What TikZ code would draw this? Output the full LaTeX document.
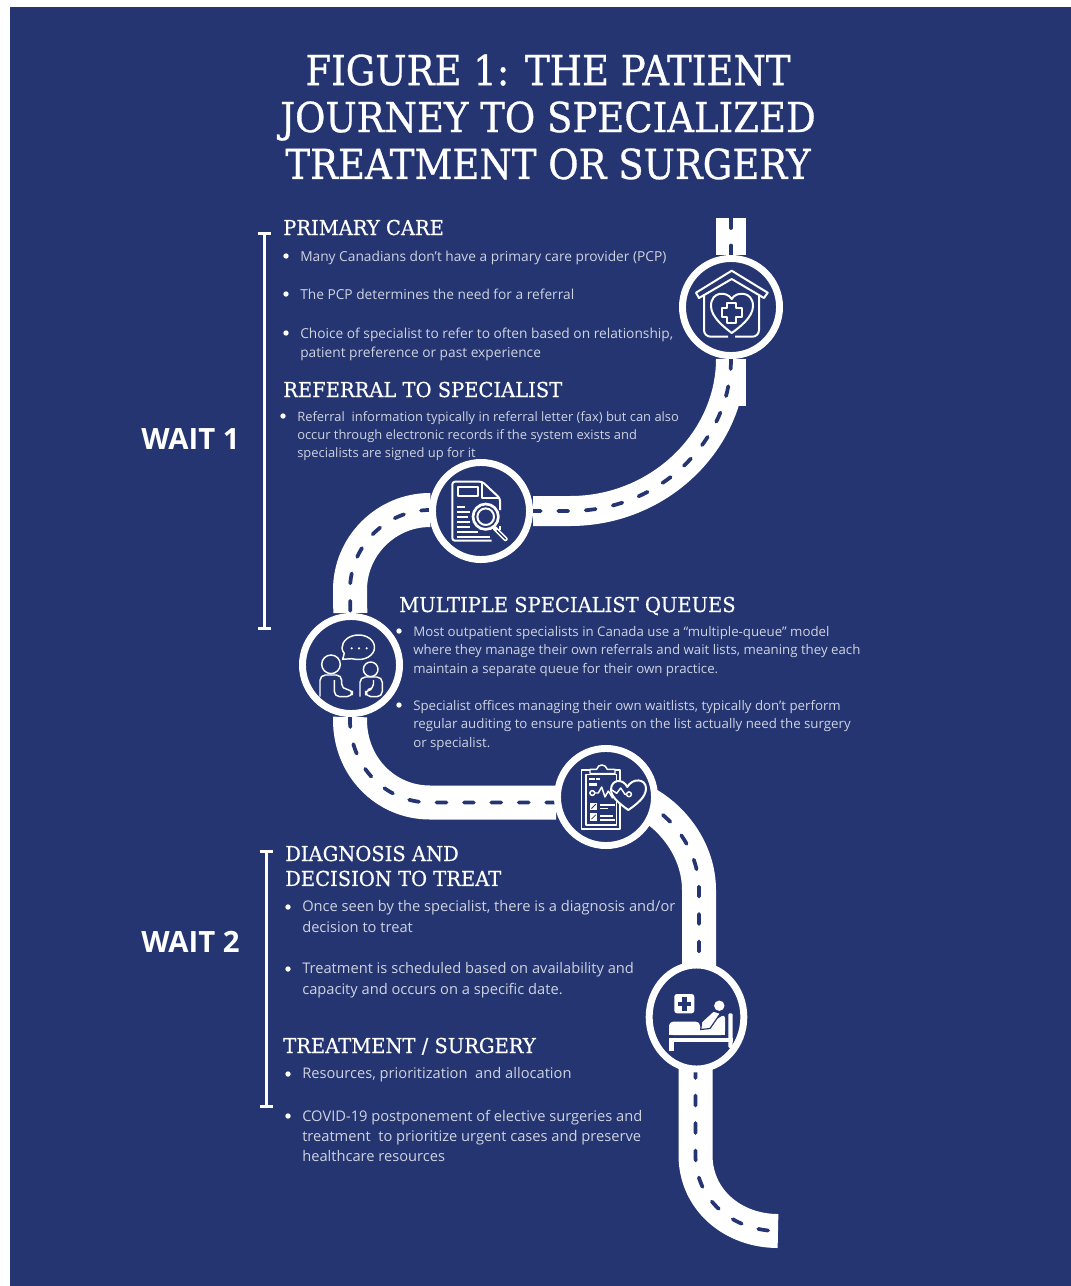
\documentclass[tikz,border=0pt]{standalone}
\usepackage{fontspec}
\setmainfont{Open Sans}
\newfontfamily\titlefont[FakeStretch=0.896,FakeBold=0.7]{DejaVu Serif}
\newfontfamily\headfont[FakeStretch=0.95,FakeBold=0.5]{DejaVu Serif}
\usepackage{xcolor}
\usetikzlibrary{arrows.meta,backgrounds,shapes.geometric}
\definecolor{navy}{RGB}{36,53,113}
\colorlet{bodytext}{white!78!navy}

\begin{document}
\begin{tikzpicture}[x=0.75pt,y=-0.75pt,>=Latex]
  \tikzset{
    stopring/.style={circle, draw=white, line width=5.2pt, fill=navy, minimum size=72.8pt, inner sep=0pt},
    road/.style={draw=white, line width=25.5pt, postaction={draw=navy, line width=2.8pt, line cap=round, dash pattern=on 7.5pt off 13.1pt}},
    thinroad/.style={road, line width=22.5pt},
    titletext/.style={font=\titlefont\fontsize{31pt}{35.2pt}\selectfont, text=white, align=center, inner sep=0pt},
    headtext/.style={font=\headfont\fontsize{15.4pt}{18.7pt}\selectfont, text=white, align=left, anchor=base west, inner sep=0pt},
    waittext/.style={font=\bfseries\fontsize{22pt}{25pt}\selectfont, text=white, anchor=base west, inner sep=0pt},
    bigtext/.style={font=\fontsize{11pt}{15.3pt}\selectfont, text=bodytext, align=left, anchor=north west, inner sep=0pt},
    midtext/.style={font=\fontsize{10.3pt}{14.2pt}\selectfont, text=bodytext, align=left, anchor=north west, inner sep=0pt},
    queuetext/.style={font=\fontsize{9.95pt}{13.9pt}\selectfont, text=bodytext, align=left, anchor=north west, inner sep=0pt},
    smalltext/.style={font=\fontsize{9.7pt}{13.5pt}\selectfont, text=bodytext, align=left, anchor=north west, inner sep=0pt},
    waitbar/.style={draw=white, line width=2.2pt, {Bar[width=10pt,line width=2.2pt]}-{Bar[width=10pt,line width=2.2pt]}},
    iconline/.style={draw=white, line width=1.5pt, line join=round},
    iconthin/.style={draw=white, line width=1.1pt, line join=round},
    iconbar/.style={draw=white, line width=1.2pt}
  }
  % stops on the road
  \node[stopring] (home) at (731,307) {};
  \node[stopring] (referral) at (481,511) {};
  \node[stopring] (queues) at (351,665) {};
  \node[stopring] (diagnosis) at (606,797) {};
  \node[ellipse, draw=white, line width=5.2pt, fill=navy, minimum width=71pt, minimum height=78pt, inner sep=0pt] (treatment) at (696.5,1017) {};

  \coordinate (roadtop) at (731,218);
  \coordinate (stubend) at (731,406);
  \coordinate (roadend) at (778,1231);
  \coordinate (diagwest) at (556,802.5);
  \coordinate (diageast) at (640,800);
  \coordinate (treattop) at (699,966);
  \coordinate (treatfoot) at (695.5,1068);

  % road, behind the stops
  \begin{pgfonlayer}{background}
    \fill[white] (0,0) rectangle (1071,1286);
    \fill[navy] (10,7) rectangle (1071,1286);
    \draw[draw=white, line width=22pt] (home) -- (stubend);
    \draw[thinroad] (roadtop) -- (home);
    \draw[thinroad] (home) .. controls (731,440) and (660,511) .. (570,511) -- (referral);
    \draw[road] (referral) -- (430,510) .. controls (386,510) and (350,546) .. (350,590) -- (queues);
    \draw[road] (queues) -- (350,720) .. controls (350,766) and (385,802.5) .. (430,802.5) -- (diagwest);
    \draw[road] (diageast) .. controls (672,815) and (699,850) .. (699,890) -- (treattop);
    \draw[road] (treatfoot) -- (695.5,1155) .. controls (695.5,1200) and (733,1231) .. (roadend);
  \end{pgfonlayer}

  % title
  \node[titletext] (title) at (548,117) {FIGURE 1: THE PATIENT\\JOURNEY TO SPECIALIZED\\TREATMENT OR SURGERY};

  % wait bars
  \coordinate (wait1top) at (264.5,232);
  \coordinate (wait1end) at (264.5,630);
  \coordinate (wait2top) at (266.5,850);
  \coordinate (wait2end) at (266.5,1108);
  \draw[waitbar] (wait1top) -- (wait1end);
  \draw[waitbar] (wait2top) -- (wait2end);
  \node[waittext] (wait1) at (141,449) {WAIT 1};
  \node[waittext] (wait2) at (141,952) {WAIT 2};

  % headings
  \node[headtext] (primary) at (283,235) {PRIMARY CARE};
  \node[headtext] (refhead) at (283,397) {REFERRAL TO SPECIALIST};
  \node[headtext] (multi) at (399,612) {MULTIPLE SPECIALIST QUEUES};
  \node[headtext,anchor=north west] (diag) at (285,845.5) {DIAGNOSIS AND\\DECISION TO TREAT};
  \node[headtext] (surgery) at (283,1053) {TREATMENT / SURGERY};

  % bullets
  \foreach \bx/\by in {286/256,286/294,286/333,283/416,399/631,399/705,288/907,288/969,288/1074,288/1116}
    \fill[white] (\bx,\by) circle (2.7);

  % body text
  \node[midtext] (pa) at (300,251) {Many Canadians don't have a primary care provider (PCP)};
  \node[midtext] (pb) at (300,289) {The PCP determines the need for a referral};
  \node[midtext] (pc) at (300,328) {Choice of specialist to refer to often based on relationship,\\patient preference or past experience};
  \node[smalltext] (ra) at (297,411) {Referral\ \ information typically in referral letter (fax) but can also\\occur through electronic records if the system exists and\\specialists are signed up for it};
  \node[queuetext] (qa) at (413,626) {Most outpatient specialists in Canada use a “multiple-queue” model\\where they manage their own referrals and wait lists, meaning they each\\maintain a separate queue for their own practice.};
  \node[queuetext] (qb) at (413,700) {Specialist offices managing their own waitlists, typically don’t perform\\regular auditing to ensure patients on the list actually need the surgery\\or specialist.};
  \node[bigtext] (da) at (302,900.5) {Once seen by the specialist, there is a diagnosis and/or\\decision to treat};
  \node[bigtext] (db) at (302,962.5) {Treatment is scheduled based on availability and\\capacity and occurs on a specific date.};
  \node[bigtext] (sa) at (302,1067.5) {Resources, prioritization\ \ and allocation};
  \node[bigtext] (sb) at (302,1109.5) {COVID-19 postponement of elective surgeries and\\treatment\ \ to prioritize urgent cases and preserve\\healthcare resources};

  % home icon
  \draw[iconline] (731.7,270.7) -- (767.7,292.7) -- (764,298) -- (731.7,279) -- (699,298) -- (696,292.7) -- cycle;
  \draw[iconline,rounded corners=5pt] (704,295) -- (704,336.7) -- (728,336.7);
  \draw[iconline,rounded corners=5pt] (759,295) -- (759,336.7) -- (735,336.7);
  \draw[iconline] (731.7,299) .. controls (727,291) and (711,291) .. (711,306) .. controls (711,317) and (724,327) .. (731.7,333) .. controls (740,327) and (753,317) .. (753,306) .. controls (753,291) and (736,291) .. (731.7,299) -- cycle;
  \draw[iconline] (727.2,303) -- (736.2,303) -- (736.2,308.2) -- (741.7,308.2) -- (741.7,317.2) -- (736.2,317.2) -- (736.2,322.5) -- (727.2,322.5) -- (727.2,317.2) -- (721.7,317.2) -- (721.7,308.2) -- (727.2,308.2) -- cycle;

  % document icon
  \draw[iconline,rounded corners=2pt] (491.7,540.7) -- (452.3,540.7) -- (452.3,481.7) -- (482.3,481.7) -- (500,498.3) -- (500,510);
  \draw[iconline] (500,526) -- (500,530);
  \draw[iconline] (482.3,481.7) -- (482.3,497.5) -- (500,497.5);
  \draw[iconline] (457.7,486.7) rectangle (477.7,495.7);
  \foreach \ly/\lx in {506.7/465,511.7/470,516.7/468,521.7/470,526.7/470,531.7/478,536.7/490}
    \draw[iconbar] (456.7,\ly) -- (\lx,\ly);
  \draw[white,line width=3.4pt,line cap=round] (495,528.5) -- (505.5,539);
  \draw[navy,line width=1pt,line cap=round] (497,530.5) -- (505.5,539);
  \draw[iconline,fill=navy,line width=2pt] (485.7,516.7) circle (12.7);
  \draw[iconline] (485.7,516.7) circle (8.3);

  % people icon
  \draw[iconthin] (351.7,658.7) .. controls (365,662) and (374.5,655) .. (374.5,647.5) .. controls (374.5,640) and (367,635) .. (358.5,635) .. controls (349,635) and (342,641) .. (342,648) .. controls (342,650) and (343,652) .. (344.3,653.3) -- (342.7,659.3) -- cycle;
  \foreach \dx in {351.7,359,366.7}
    \fill[white] (\dx,648.3) circle (1.2);
  \draw[iconthin] (331,664.3) circle (9.3);
  \draw[iconthin,rounded corners=4pt] (320,696.7) -- (320,675) -- (341.7,675) -- (341.7,689.3) -- (352.3,689.3) -- (352.3,696.7) -- (334.3,696.7) -- (334.3,680);
  \draw[iconthin] (370.7,669.3) circle (7.3);
  \draw[iconthin,rounded corners=4pt] (360,696.7) -- (360,677) -- (382.3,677) -- (382.3,696.7) -- (365.7,696.7) -- (365.7,689.5) -- (373.5,689.5) -- (373.5,680);

  % clipboard icon
  \draw[iconthin] (581.7,770) rectangle (620,829);
  \draw[iconthin] (586,774.3) rectangle (616.7,825);
  \draw[iconthin,fill=navy] (590,773.5) -- (590,769.3) -- (596.7,769.3) .. controls (598,763.5) and (605.5,763.5) .. (607.3,769.3) -- (615,769.3) -- (615,773.5) -- cycle;
  \foreach \ax/\ay/\bx/\by in {589.3/778.3/595/780.3,596/778.3/600/780.3,589.3/783.3/597.3/785.7,600/804.3/607.7/806,608.3/804.3/615/806,600/807.7/608.3/809.3,600/815/613.3/817,600/819.3/615/821.3}
    \fill[white] (\ax,\ay) rectangle (\bx,\by);
  \foreach \cy in {802.7,813.3} {
    \fill[white] (590,\cy) rectangle (597.3,\cy+7.3);
    \draw[navy,line width=0.6pt] (591.5,\cy+5.8) -- (595.8,\cy+1.5);
  }
  \draw[iconthin] (592.3,793) circle (2.4);
  \draw[iconthin] (594.7,793) -- (598.3,793) -- (601.7,787) -- (605,797) -- (608.3,791) -- (612.7,798.3);
  \draw[iconline,fill=navy] (627.3,787) .. controls (623,778) and (611,779) .. (611,790) .. controls (611,797) and (620,804) .. (628.3,810) .. controls (637,804) and (646,797) .. (646,788.5) .. controls (646,778) and (632,778) .. (627.3,787) -- cycle;
  \draw[iconthin] (612,790) -- (616.7,793.3) -- (620.7,788) -- (625,794.3) -- (626.6,794.3);
  \draw[iconthin] (629,794.3) circle (2.4);

  % bed icon
  \fill[white,rounded corners=2pt] (674.3,994) rectangle (694.3,1013.3);
  \fill[navy] (682,997.3) rectangle (686.6,1010.7);
  \fill[navy] (677.6,1001.7) rectangle (691,1006.3);
  \fill[white] (719.3,1005.7) circle (5.2);
  \fill[white] (669,1028) rectangle (725,1035.3);
  \fill[white,rounded corners=3pt] (669,1035) -- (669,1021.7) -- (700,1021.7) -- (700,1030) -- (725,1014) -- (725,1035) -- cycle;
  \draw[fill=white,draw=navy,line width=0.9pt] (700.7,1029.5) -- (701.7,1021.7) -- (713.3,1011) -- (720.5,1013.3) -- (710,1028.5) -- cycle;
  \fill[white,rounded corners=1pt] (728.3,1013.3) -- (732.7,1013.3) -- (732.7,1048) -- (728.3,1048) -- cycle;
  \fill[white] (669,1037.7) rectangle (732.7,1041.7);
  \fill[white] (669,1037.7) rectangle (674.3,1050.7);
\end{tikzpicture}
\end{document}
